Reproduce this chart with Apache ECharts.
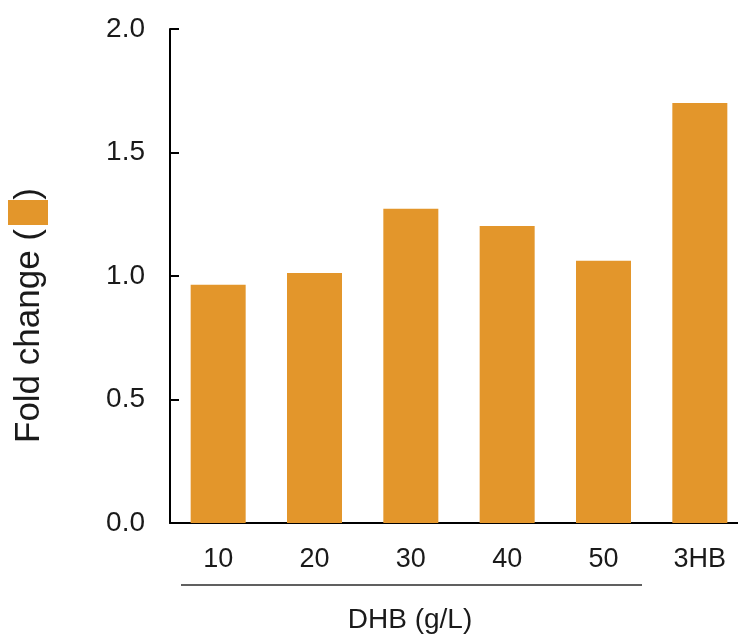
<!DOCTYPE html>
<html>
<head>
<meta charset="utf-8">
<script src="https://cdn.jsdelivr.net/npm/echarts@6/dist/echarts.min.js"></script>
<style>html,body{margin:0;padding:0;background:#fff;overflow:hidden;width:738px;height:635px;}#c{width:748px;height:635px;}</style>
</head>
<body>
<div id="c"></div>
<script>
const categories = ['10', '20', '30', '40', '50', '3HB'];
const foldChange = [0.965, 1.012, 1.272, 1.202, 1.062, 1.700];
const yTicks = { min: 0, max: 2, interval: 0.5 };
const xTitle = 'DHB (g/L)';
const yTitle = 'Fold change (';

const orange = '#E3962B';
const chart = echarts.init(document.getElementById('c'), null, { renderer: 'canvas' });
const font = 'Liberation Sans, Arial, sans-serif';
chart.setOption({
  animation: false,
  backgroundColor: '#fff',
  grid: { left: 170, top: 29, width: 578, height: 494, containLabel: false },
  xAxis: {
    type: 'category',
    data: categories,
    axisLine: { lineStyle: { color: '#000', width: 2 } },
    axisTick: { show: false },
    axisLabel: { color: '#1a1a1a', fontSize: 27, fontFamily: font, margin: 23 }
  },
  yAxis: {
    type: 'value',
    min: yTicks.min, max: yTicks.max, interval: yTicks.interval,
    splitLine: { show: false },
    axisLine: { show: true, lineStyle: { color: '#000', width: 2 } },
    axisTick: { show: true, inside: true, length: 9, lineStyle: { color: '#000', width: 2 } },
    axisLabel: { color: '#1a1a1a', fontSize: 28, fontFamily: font, margin: 25,
      formatter: v => v.toFixed(1) }
  },
  series: [{
    type: 'bar',
    data: foldChange,
    barWidth: 55,
    itemStyle: { color: orange }
  }],
  graphic: [
    { type: 'line', shape: { x1: 181, y1: 585, x2: 642, y2: 585 },
      style: { stroke: '#606060', lineWidth: 2 } },
    { type: 'text', x: 410, y: 620,
      style: { text: xTitle, fontSize: 28, fontFamily: font, fill: '#1a1a1a', align: 'center', verticalAlign: 'middle' } },
    { type: 'text', x: 29, y: 443, rotation: Math.PI / 2,
      style: { text: yTitle, fontSize: 35, fontFamily: font, fill: '#1a1a1a', align: 'left', verticalAlign: 'middle' } },
    { type: 'rect', shape: { x: 8, y: 200, width: 40, height: 25 },
      style: { fill: orange } },
    { type: 'text', x: 29, y: 194, rotation: Math.PI / 2,
      style: { text: ')', fontSize: 35, fontFamily: font, fill: '#1a1a1a', align: 'center', verticalAlign: 'middle' } }
  ]
});
</script>
</body>
</html>
